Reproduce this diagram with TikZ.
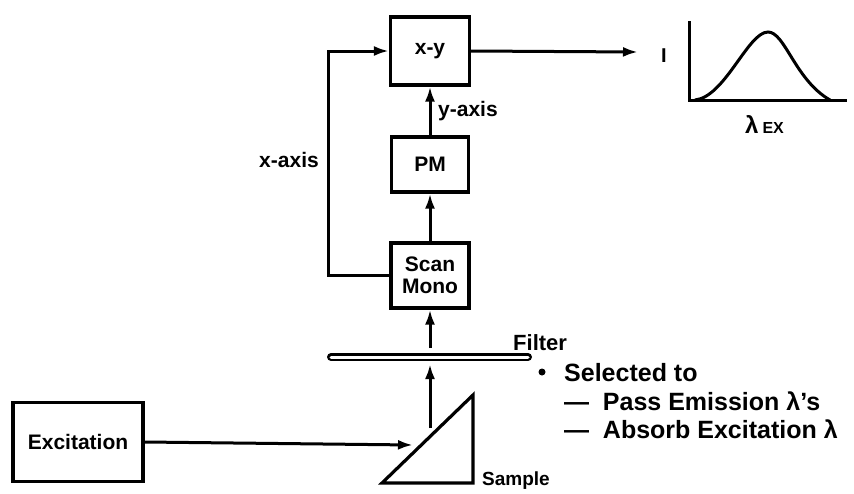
\documentclass[tikz,border=0pt]{standalone}
\usepackage{fontspec}
\setmainfont{Liberation Sans}
\usetikzlibrary{arrows.meta}
\begin{document}
\begin{tikzpicture}[x=1pt,y=-1pt,
  box/.style={draw,line width=3.2pt,font=\fontsize{21}{24}\selectfont\bfseries,align=center,inner sep=0pt},
  lbl/.style={font=\fontsize{21}{24}\selectfont\bfseries,inner sep=0pt},
  lst/.style={font=\fontsize{25}{28}\selectfont\bfseries,inner sep=0pt,anchor=base west},
  conn/.style={line width=3pt,-{Latex[length=15pt,width=10pt]}},
  plain/.style={line width=3pt}]
\useasboundingbox (0,0) rectangle (854,493);
% boxes
\node[box,minimum width=79pt,minimum height=68pt] (xy) at (430,51) {x-y};
\node[box,minimum width=77pt,minimum height=55pt] (pm) at (430,164.5) {PM};
\node[box,minimum width=78pt,minimum height=65pt] (scan) at (430,275.5) {Scan\\[-2pt]Mono};
\node[box,minimum width=130pt,minimum height=79pt] (exc) at (78,442) {Excitation};
% filter
\coordinate (fl) at (331,357);
\coordinate (fr) at (528,357);
\draw[line width=8pt,line cap=round] (fl) -- (fr);
\draw[line width=3pt,white,line cap=round] (fl) -- (fr);
% sample triangle
\coordinate (t1) at (382,483);
\coordinate (t2) at (473,483);
\coordinate (t3) at (473,395);
\draw[line width=3.2pt,line join=miter] (t1) -- (t2) -- (t3) -- cycle;
% connectors
\coordinate (sOut) at (430,428);
\coordinate (fBot) at (430,364);
\coordinate (fTop) at (430,348);
\coordinate (hit) at (413,445);
\draw[conn] (sOut) -- (fBot);
\draw[conn] (fTop) -- (scan.south);
\draw[conn] (scan.north) -- (pm.south);
\draw[conn] (pm.north) -- (xy.south);
\draw[conn] (scan.west) -- ++(-61,0) |- (xy.west);
\draw[conn] (exc.east) -- (hit);
\coordinate (out) at (638,52);
\draw[conn] (xy.east) -- (out);
% labels
\node[lbl] (xaxis) at (289,160) {x-axis};
\node[lbl,anchor=west] (yaxis) at (438,111) {y-axis};
\node[font=\fontsize{19}{22}\selectfont\bfseries,inner sep=0pt,anchor=base west] (sample) at (482,485) {Sample};
\node[lst,font=\fontsize{22}{24}\selectfont\bfseries] (filter) at (513,350) {Filter};
\fill (542,372) circle (3.5pt);
\node[lst] (sel) at (564,381) {Selected to};
\node[lst] (pass) at (564,410) {—\hspace{0.55em}Pass Emission λ's};
\node[lst] (abs) at (564,438) {—\hspace{0.55em}Absorb Excitation λ};
% graph
\coordinate (g0) at (689,100);
\coordinate (gy) at (689,21);
\coordinate (gx) at (847,100);
\draw[line width=3pt,line join=miter] (gy) -- (g0) -- (gx);
\draw[line width=3pt] (695,100) .. controls (725,97) and (748,32) .. (768,32) .. controls (785,32) and (795,80) .. (830,100);
\node[font=\fontsize{20}{22}\selectfont\bfseries,inner sep=0pt] (I) at (664,56) {I};
\node[inner sep=0pt,anchor=base west] (lam) at (745,133) {\fontsize{24}{26}\selectfont\bfseries λ\,{\fontsize{16}{17}\selectfont EX}};
\end{tikzpicture}
\end{document}
